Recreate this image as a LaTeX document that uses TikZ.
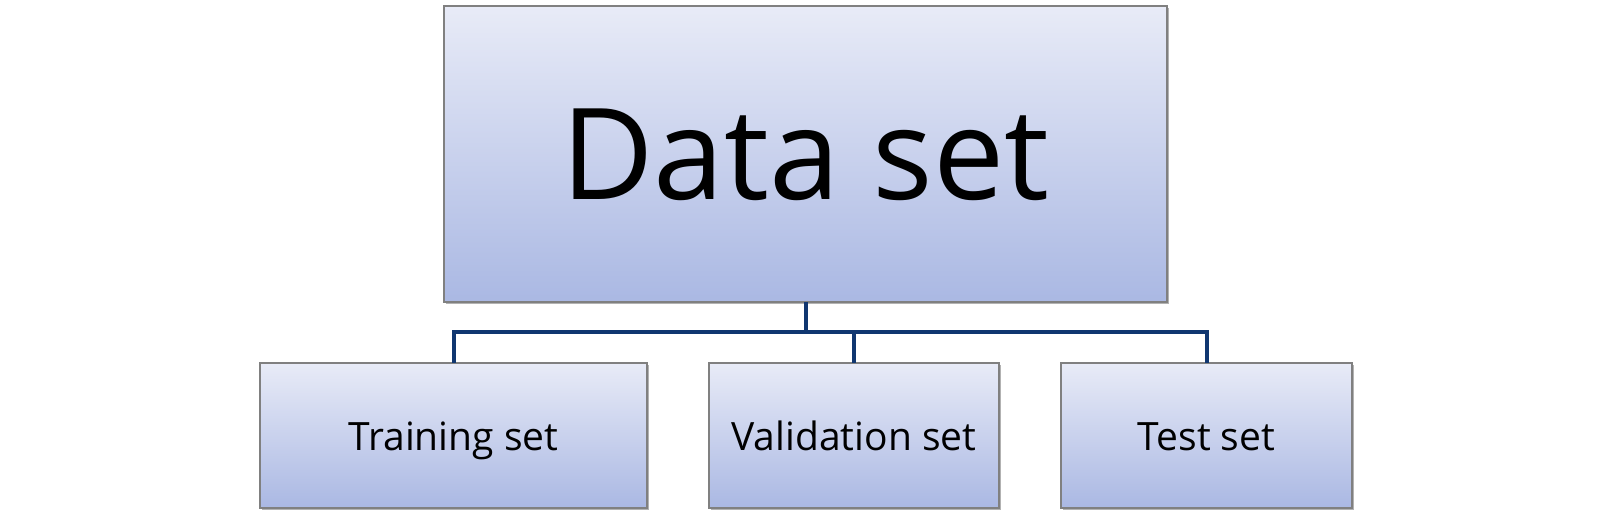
\documentclass[tikz,border=0pt]{standalone}
\usepackage{fontspec}
\setmainfont{Open Sans}
\usetikzlibrary{shadows}
\definecolor{boxtop}{RGB}{232,235,247}
\definecolor{boxbot}{RGB}{170,184,227}
\definecolor{boxline}{RGB}{128,128,128}
\definecolor{connblue}{RGB}{16,54,112}
\tikzset{
  gbox/.style={rectangle, draw=boxline, line width=0.7pt, top color=boxtop, bottom color=boxbot,
    inner sep=0pt, outer sep=0pt, text=black, text height=14.8pt, text depth=0pt,
    drop shadow={shadow xshift=1.2pt, shadow yshift=-1.2pt, opacity=0.3, fill=black}},
  conn/.style={draw=connblue, line width=2pt}
}
\begin{document}
\begin{tikzpicture}[x=0.5pt,y=-0.5pt]
\useasboundingbox (0,0) rectangle (1612,521);
\node[gbox, minimum width=361.5pt, minimum height=148pt, text height=45.3pt, font=\fontsize{63.5}{70}\selectfont] (main) at (805.5,154) {Data set};
\node[gbox, minimum width=193.5pt, minimum height=72.5pt, font=\fontsize{19.5}{23}\selectfont] (tr) at (453.5,435.5) {Training set};
\node[gbox, minimum width=145pt, minimum height=72.5pt, font=\fontsize{19.5}{23}\selectfont] (va) at (854,435.5) {Validation set};
\node[gbox, minimum width=145.5pt, minimum height=72.5pt, font=\fontsize{19.5}{23}\selectfont] (te) at (1206.5,435.5) {Test set};
\coordinate (bus) at (0,332);
\draw[conn] (main.south) -- (main.south |- bus) -| (tr.north);
\draw[conn] (main.south |- bus) -| (va.north);
\draw[conn] (main.south |- bus) -| (te.north);
\end{tikzpicture}
\end{document}
